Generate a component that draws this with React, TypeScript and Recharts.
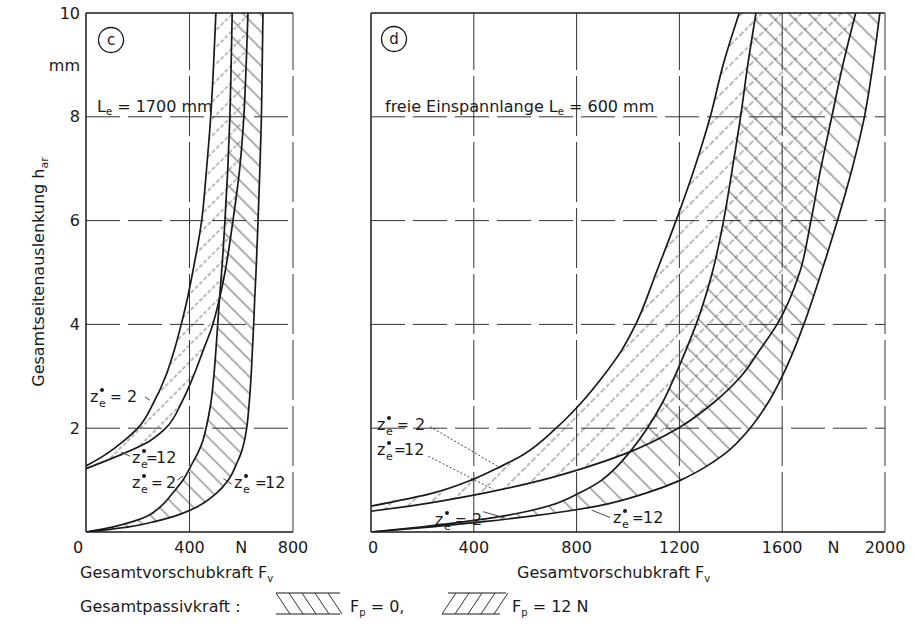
import React from 'react';
import { ComposedChart, Line, Area, XAxis, YAxis, ReferenceLine } from 'recharts';

const FONT = '"DejaVu Sans", Verdana, sans-serif';
const INK = '#1a1a1a';

// ---------- panel c : L_e = 1700 mm (F in N as function of h in mm) ----------
const hC = [0, 0.1, 0.2, 0.3, 0.5, 0.75, 1, 1.22, 1.27, 1.5, 1.75, 2, 2.5, 3, 3.5, 4, 4.5, 5, 6, 7, 8, 9, 10];
const cFp12z2 = [null, null, null, null, null, null, null, null, 0, 78, 145, 200, 262, 308, 341, 368, 392, 412, 447, 466, 482, 493, 502];
const cFp12z12 = [null, null, null, null, null, null, null, 0, 25, 140, 245, 308, 370, 415, 453, 490, 516, 537, 568, 594, 610, 619, 626];
const cFp0z2 = [0, 105, 180, 234, 290, 335, 375, 400, 405, 430, 451, 464, 483, 494, 502, 509, 516, 524, 537, 548, 556, 561, 565];
const cFp0z12 = [0, 165, 265, 340, 435, 505, 550, 574, 578, 598, 612, 621, 631, 638, 643, 648, 652, 657, 665, 672, 678, 681, 684];

// ---------- panel d : L_e = 600 mm ----------
const hD = [0, 0.1, 0.2, 0.3, 0.4, 0.5, 0.75, 1, 1.25, 1.5, 2, 2.5, 3, 3.5, 4, 5, 6, 7, 8, 9, 10];
const dFp12z2 = [null, null, null, null, null, 0, 240, 390, 500, 595, 720, 820, 903, 975, 1030, 1110, 1187, 1258, 1320, 1370, 1433];
const dFp12z12 = [null, null, null, null, 0, 150, 440, 665, 840, 985, 1195, 1335, 1440, 1512, 1580, 1668, 1712, 1750, 1793, 1836, 1886];
const dFp0z2 = [0, 200, 365, 505, 610, 690, 810, 898, 955, 1000, 1075, 1135, 1182, 1225, 1265, 1328, 1372, 1406, 1438, 1466, 1498];
const dFp0z12 = [0, 236, 440, 615, 760, 880, 1070, 1205, 1300, 1375, 1475, 1546, 1600, 1645, 1684, 1752, 1815, 1872, 1920, 1953, 1980];

// ---------- ticks ----------
const yTicks = [2, 4, 6, 8, 9, 10];
const yTickLabels = ['2', '4', '6', '8', 'mm', '10'];
const cXTicks = [0, 400, 600, 800];
const cXTickLabels = ['0', '400', 'N', '800'];
const dXTicks = [0, 400, 800, 1200, 1600, 1800, 2000];
const dXTickLabels = ['0', '400', '800', '1200', '1600', 'N', '2000'];
const hGrid = [2, 4, 6, 8];
const cVGrid = [400, 800];
const dVGrid = [400, 800, 1200, 1600, 2000];

// ---------- leader lines of the z_e labels [F1, h1, F2, h2] ----------
const cLeaders = [
  [228, 2.6, 247, 2.54],
  [170, 1.46, 135, 1.54],
  [353, 1.0, 376, 1.08],
  [531, 1.03, 563, 0.92],
];
const dLeaders = [
  [230, 2.03, 495, 1.26],
  [223, 1.46, 476, 0.82],
  [437, 0.39, 521, 0.27],
  [930, 0.28, 859, 0.42],
];

function buildRows(h: number[], a: (number | null)[], b: (number | null)[], c: number[], d: number[]) {
  return h.map((hv, i) => ({
    h: hv,
    p12z2: a[i],
    p12z12: b[i],
    p0z2: c[i],
    p0z12: d[i],
    band12: b[i] == null ? null : [a[i] ?? 0, b[i]],
    band0: [c[i], d[i]],
  }));
}

const rowsC = buildRows(hC, cFp12z2, cFp12z12, cFp0z2, cFp0z12);
const rowsD = buildRows(hD, dFp12z2, dFp12z12, dFp0z2, dFp0z12);

const makeXTick = (ticks: number[], labels: string[], shiftZero: number) => (props: any) => {
  const { x, y, payload } = props;
  const i = ticks.indexOf(payload.value);
  const dx = payload.value === 0 ? shiftZero : 0;
  return (
    <text x={x + dx} y={y} dy="0.71em" textAnchor="middle" fontSize={16} fontFamily={FONT} fill={INK}>
      {labels[i]}
    </text>
  );
};

const YTick = (props: any) => {
  const { x, y, payload } = props;
  const i = yTicks.indexOf(payload.value);
  return (
    <text x={x} y={y} dy="0.355em" textAnchor="end" fontSize={16} fontFamily={FONT} fill={INK}>
      {yTickLabels[i]}
    </text>
  );
};

function Patterns({ id, size }: { id: string; size: number }) {
  return (
    <defs>
      <pattern id={`${id}-p0`} patternUnits="userSpaceOnUse" width={size} height={size} patternTransform="rotate(45)">
        <line x1={0} y1={size / 2} x2={size} y2={size / 2} stroke="#333" strokeWidth={0.8} />
      </pattern>
      <pattern id={`${id}-p12`} patternUnits="userSpaceOnUse" width={size} height={size} patternTransform="rotate(-45)">
        <line x1={0} y1={size / 2} x2={size} y2={size / 2} stroke="#555" strokeWidth={0.8} strokeDasharray="4 2" />
      </pattern>
    </defs>
  );
}

const curveProps = { type: 'monotone' as const, stroke: INK, strokeWidth: 1.7, dot: false, activeDot: false, isAnimationActive: false };
const gridDash = '34 8';

function Panel({ id, rows, width, margin, xMax, xTicks, xLabels, shiftZero, vGrid, leaders, showY, hatch }: any) {
  return (
    <ComposedChart width={width} height={626} layout="vertical" data={rows} margin={margin} style={{ overflow: 'visible' }}>
      <Patterns id={id} size={hatch} />
      <XAxis
        type="number"
        domain={[0, xMax]}
        ticks={xTicks}
        interval={0}
        tickLine={false}
        tickSize={0}
        tickMargin={10}
        height={30}
        axisLine={{ stroke: INK, strokeWidth: 1.5 }}
        tick={makeXTick(xTicks, xLabels, shiftZero)}
        allowDataOverflow
      />
      <YAxis
        type="number"
        dataKey="h"
        domain={[0, 10]}
        reversed
        ticks={yTicks}
        interval={0}
        hide={!showY}
        width={showY ? 86 : 0}
        tickLine={false}
        tickSize={0}
        tickMargin={6}
        axisLine={{ stroke: INK, strokeWidth: 1.5 }}
        tick={YTick}
        allowDataOverflow
      />
      {hGrid.map((g) => (
        <ReferenceLine key={`h${g}`} y={g} stroke="#333" strokeWidth={1} strokeDasharray={gridDash} />
      ))}
      {vGrid.map((g: number) => (
        <ReferenceLine key={`v${g}`} x={g} stroke="#333" strokeWidth={1} strokeDasharray="60 6" />
      ))}
      <ReferenceLine y={10} stroke={INK} strokeWidth={1.5} />
      {!showY && <ReferenceLine x={0} stroke={INK} strokeWidth={1.5} />}
      <Area dataKey="band0" type="monotone" fill={`url(#${id}-p0)`} fillOpacity={1} stroke="none" isAnimationActive={false} activeDot={false} />
      <Area dataKey="band12" type="monotone" fill={`url(#${id}-p12)`} fillOpacity={1} stroke="none" isAnimationActive={false} activeDot={false} />
      <Line dataKey="p12z2" {...curveProps} />
      <Line dataKey="p12z12" {...curveProps} />
      <Line dataKey="p0z2" {...curveProps} />
      <Line dataKey="p0z12" {...curveProps} />
      {leaders.map((l: number[], i: number) => (
        <ReferenceLine
          key={`l${i}`}
          segment={[{ x: l[0], y: l[1] }, { x: l[2], y: l[3] }]}
          stroke="#333"
          strokeWidth={0.9}
          strokeDasharray={id === 'd' && i < 2 ? '2 2' : undefined}
        />
      ))}
    </ComposedChart>
  );
}

// annotation labels z_e* = n  (pixel placement of text)
const zLabels = [
  { x: 90, eq: 110, nx: 127, n: '2', y: 402 },
  { x: 132, eq: 146, nx: 156, n: '12', y: 463 },
  { x: 132, eq: 151, nx: 166, n: '2', y: 488 },
  { x: 234, eq: 255, nx: 265, n: '12', y: 488 },
  { x: 377, eq: 397, nx: 415, n: '2', y: 430 },
  { x: 377, eq: 394, nx: 404, n: '12', y: 455 },
  { x: 435, eq: 455, nx: 472, n: '2', y: 525 },
  { x: 613, eq: 632, nx: 643, n: '12', y: 523 },
];

function ZLabel({ x, eq, nx, n, y }: any) {
  return (
    <g fontFamily={FONT} fill={INK}>
      <text x={x} y={y} fontSize={16}>z</text>
      <text x={x + 9} y={y + 5} fontSize={11}>e</text>
      <circle cx={x + 12} cy={y - 12} r={2} fill={INK} />
      <text x={eq} y={y} fontSize={14}>=</text>
      <text x={nx} y={y} fontSize={16}>{n}</text>
    </g>
  );
}

export default function App() {
  return (
    <div style={{ position: 'absolute', left: 0, top: 0, width: 914, height: 626, background: '#fff', overflow: 'hidden' }}>
      <div style={{ position: 'absolute', left: 0, top: 0 }}>
        <Panel
          id="c"
          rows={rowsC}
          width={330}
          margin={{ top: 13, right: 37, bottom: 64, left: 0 }}
          xMax={800}
          xTicks={cXTicks}
          xLabels={cXTickLabels}
          shiftZero={-8}
          vGrid={cVGrid}
          leaders={cLeaders}
          showY
          hatch={12}
        />
      </div>
      <div style={{ position: 'absolute', left: 310, top: 0 }}>
        <Panel
          id="d"
          rows={rowsD}
          width={604}
          margin={{ top: 13, right: 29, bottom: 64, left: 61 }}
          xMax={2000}
          xTicks={dXTicks}
          xLabels={dXTickLabels}
          shiftZero={2}
          vGrid={dVGrid}
          leaders={dLeaders}
          showY={false}
          hatch={14}
        />
      </div>
      <svg width={914} height={626} style={{ position: 'absolute', left: 0, top: 0, pointerEvents: 'none' }}>
        <g fontFamily={FONT} fill={INK}>
          <text transform="translate(44,272) rotate(-90)" textAnchor="middle" fontSize={16}>
            Gesamtseitenauslenkung h<tspan fontSize={11} dy={4}>ar</tspan>
          </text>
          <circle cx={111} cy={40} r={12.5} fill="none" stroke={INK} strokeWidth={1.3} />
          <text x={111} y={45} textAnchor="middle" fontSize={15}>c</text>
          <circle cx={394} cy={39} r={12.5} fill="none" stroke={INK} strokeWidth={1.3} />
          <text x={394} y={44} textAnchor="middle" fontSize={15}>d</text>
          <text x={97} y={112} fontSize={16}>
            L<tspan fontSize={10} dy={3}>e</tspan><tspan dy={-3}> = 1700 mm</tspan>
          </text>
          <text x={385} y={112} fontSize={16}>
            freie Einspannlange L<tspan fontSize={10} dy={3}>e</tspan><tspan dy={-3}> = 600 mm</tspan>
          </text>
          <text x={80} y={578} fontSize={16}>
            Gesamtvorschubkraft F<tspan fontSize={10} dy={4}>v</tspan>
          </text>
          <text x={517} y={578} fontSize={16}>
            Gesamtvorschubkraft F<tspan fontSize={10} dy={4}>v</tspan>
          </text>
          <text x={80} y={612} fontSize={16}>Gesamtpassivkraft :</text>
          <text x={350} y={612} fontSize={16}>
            F<tspan fontSize={10} dy={4}>p</tspan><tspan dy={-4}> = 0,</tspan>
          </text>
          <text x={512} y={612} fontSize={16}>
            F<tspan fontSize={10} dy={4}>p</tspan><tspan dy={-4}> = 12 N</tspan>
          </text>
          {zLabels.map((z, i) => (
            <ZLabel key={i} {...z} />
          ))}
        </g>
        <g stroke={INK} strokeWidth={1.2} fill="none">
          <line x1={276} y1={593} x2={340} y2={593} />
          <line x1={276} y1={614} x2={340} y2={614} />
          {[276, 289, 302, 315, 328].map((x) => (
            <line key={x} x1={x} y1={593} x2={x + 14} y2={614} strokeWidth={0.9} />
          ))}
          <line x1={448} y1={593} x2={506} y2={593} />
          <line x1={442} y1={614} x2={500} y2={614} />
          {[442, 455, 468, 481, 494].map((x) => (
            <line key={x} x1={x} y1={614} x2={x + 14} y2={593} strokeWidth={0.9} />
          ))}
        </g>
      </svg>
    </div>
  );
}
